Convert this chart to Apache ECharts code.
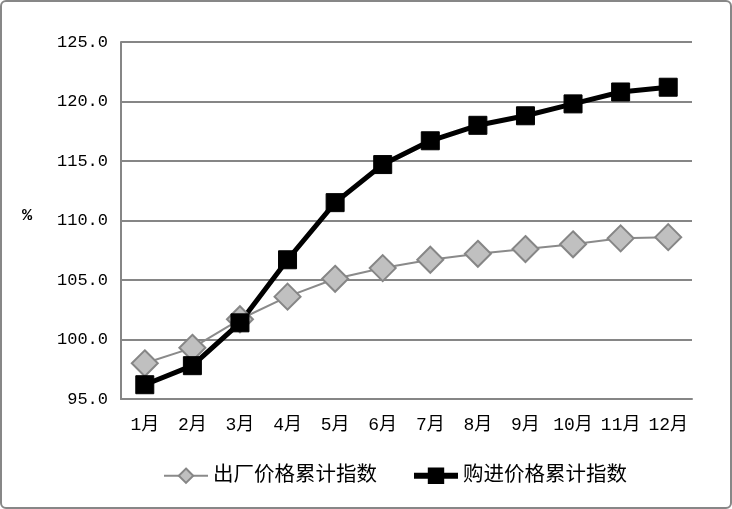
<!DOCTYPE html>
<html><head><meta charset="utf-8">
<script src="https://cdn.jsdelivr.net/npm/echarts@6/dist/echarts.min.js"></script>
<style>
html,body{margin:0;padding:0;background:#fff;}
#c{width:732px;height:509px;box-sizing:border-box;border:2px solid #878787;border-radius:6px;}
</style></head>
<body><div id="c"></div>
<script>
var categories = ['1月','2月','3月','4月','5月','6月','7月','8月','9月','10月','11月','12月'];
var factoryIndex = [98.0, 99.3, 101.7, 103.6, 105.1, 106.0, 106.7, 107.2, 107.6, 108.0, 108.5, 108.6];
var purchaseIndex = [96.2, 97.8, 101.4, 106.7, 111.5, 114.7, 116.7, 118.0, 118.8, 119.8, 120.8, 121.2];
var seriesNames = ['出厂价格累计指数', '购进价格累计指数'];
var yMin = 95, yMax = 125, yStep = 5;

var font = "'Liberation Mono','Noto Sans CJK SC',monospace";
var chart = echarts.init(document.getElementById('c'));
chart.setOption({
  animation: false,
  textStyle: {fontFamily: font},
  grid: {left: 119, right: 38, top: 40, bottom: 108},
  graphic: [{type: 'text', left: 20, top: 205, style: {text: '%', font: "bold 17px " + font, fill: '#000'}}],
  legend: {
    bottom: 16, left: 156, itemWidth: 44, itemHeight: 18, itemGap: 34, itemTextGap: 6,
    textStyle: {fontSize: 20.5, color: '#000', fontFamily: font},
    data: [
      {name: seriesNames[0], lineStyle: {width: 2, color: '#8a8a8a'}},
      {name: seriesNames[1], lineStyle: {width: 6, color: '#000'}}
    ]
  },
  xAxis: {
    type: 'category', data: categories, boundaryGap: true,
    axisLine: {lineStyle: {color: '#868686', width: 2}},
    axisTick: {show: false},
    axisLabel: {color: '#000', fontSize: 18, margin: 17, interval: 0}
  },
  yAxis: {
    type: 'value', min: yMin, max: yMax, interval: yStep,
    axisLine: {show: true, lineStyle: {color: '#868686', width: 2}},
    axisTick: {show: false},
    splitLine: {lineStyle: {color: '#868686', width: 2}},
    axisLabel: {color: '#000', fontSize: 17, margin: 13, formatter: function(v){return v.toFixed(1);}}
  },
  series: [
    {
      name: seriesNames[0], type: 'line', data: factoryIndex,
      symbol: 'diamond', symbolSize: 26,
      lineStyle: {color: '#8a8a8a', width: 2},
      itemStyle: {color: '#c0c0c0', borderColor: '#868686', borderWidth: 2}
    },
    {
      name: seriesNames[1], type: 'line', data: purchaseIndex,
      symbol: 'rect', symbolSize: 18,
      lineStyle: {color: '#000', width: 5},
      itemStyle: {color: '#000', borderColor: '#000', borderWidth: 1}
    }
  ]
});
</script></body></html>
